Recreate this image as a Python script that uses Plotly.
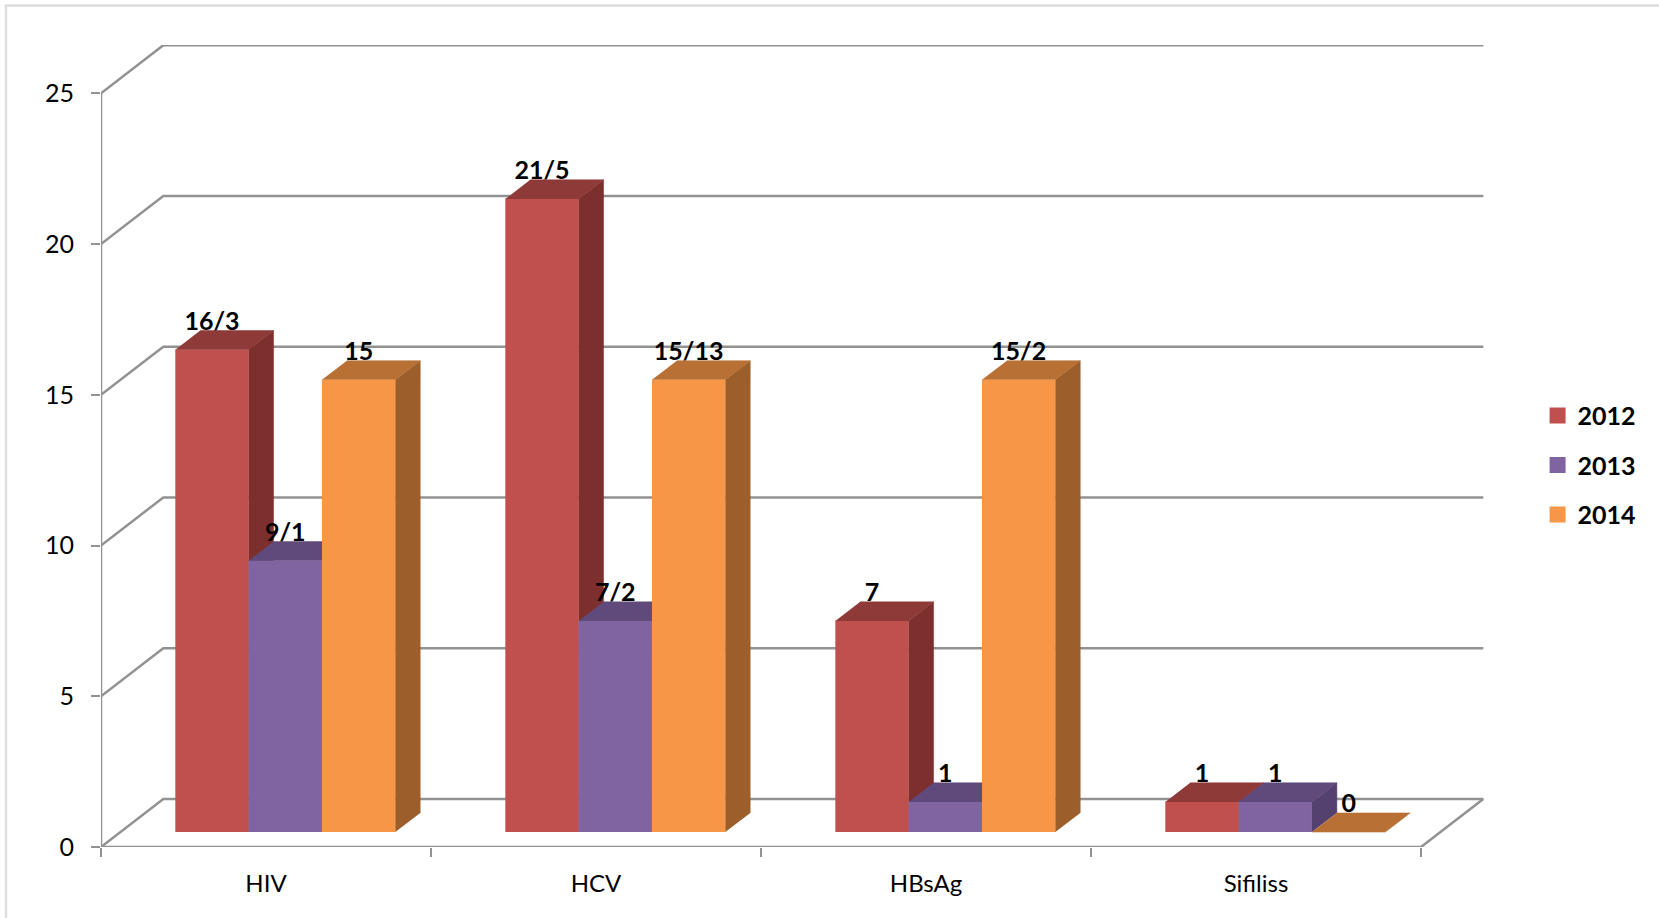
import plotly.graph_objects as go

categories = ["HIV", "HCV", "HBsAg", "Sifiliss"]
years = ["2012", "2013", "2014"]
values_2012 = [16, 21, 7, 1]
values_2013 = [9, 7, 1, 1]
values_2014 = [15, 15, 15, 0]
labels_2012 = ["16/3", "21/5", "7", "1"]
labels_2013 = ["9/1", "7/2", "1", "1"]
labels_2014 = ["15", "15/13", "15/2", "0"]
y_ticks = [0, 5, 10, 15, 20, 25]

series = [
    (years[0], values_2012, labels_2012, "#C0504D", "#8E3A38", "#7D2F2E"),
    (years[1], values_2013, labels_2013, "#8064A2", "#604A7B", "#55416F"),
    (years[2], values_2014, labels_2014, "#F79646", "#B97034", "#9C5E2A"),
]

W, H = 1659, 918
L, R, T, B = 101, 1485, 45, 847
PX_X = 330.0
PX_Y = 30.15
DX = 62.3 / PX_X
DY = 48.0 / PX_Y
D_FRONT, D_BACK = 0.31, 0.71
BAR_W = 2 / 9
GAP = 1 / 6
GRID = "#929292"
LABEL_LIFT = 7 / PX_Y


def proj(x, y, d):
    return x + d * DX, y + d * DY


fig = go.Figure()

# walls / floor grid
for v in y_ticks:
    pts = [proj(0, v, 0), proj(0, v, 1), proj(len(categories), v, 1)]
    fig.add_trace(go.Scatter(x=[p[0] for p in pts], y=[p[1] for p in pts], mode="lines",
                             line=dict(color=GRID, width=2.5), showlegend=False, hoverinfo="skip", zorder=0))
n = len(categories)
edges = [[(0, 0, 0), (0, 25, 0)], [(0, 0, 0), (n, 0, 0)], [(n, 0, 0), (n, 0, 1)]]
for e in edges:
    pts = [proj(*p) for p in e]
    fig.add_trace(go.Scatter(x=[p[0] for p in pts], y=[p[1] for p in pts], mode="lines",
                             line=dict(color=GRID, width=2.5), showlegend=False, hoverinfo="skip", zorder=0))


def poly(corners, color, z):
    pts = [proj(*c) for c in corners]
    fig.add_trace(go.Scatter(x=[p[0] for p in pts], y=[p[1] for p in pts], mode="lines", fill="toself",
                             fillcolor=color, line=dict(color=color, width=0.5), showlegend=False,
                             hoverinfo="skip", zorder=z))


lab_x, lab_y, lab_t = [], [], []
for s, (name, vals, labs, front, top, side) in enumerate(series):
    z = 2 * s + 1
    fx, fb, fy = [], [], []
    for i, v in enumerate(vals):
        x0 = i + GAP + s * BAR_W
        x1 = x0 + BAR_W
        if v > 0:
            poly([(x1, 0, D_FRONT), (x1, v, D_FRONT), (x1, v, D_BACK), (x1, 0, D_BACK)], side, z)
        poly([(x0, v, D_FRONT), (x1, v, D_FRONT), (x1, v, D_BACK), (x0, v, D_BACK)], top, z)
        cx, _ = proj(x0 + BAR_W / 2, v, D_FRONT)
        _, cy = proj(x0, v, D_BACK)
        lab_x.append(cx)
        lab_y.append(cy + LABEL_LIFT)
        lab_t.append(labs[i])
        fx.append(proj(x0 + BAR_W / 2, 0, D_FRONT)[0])
        fb.append(proj(0, 0, D_FRONT)[1])
        fy.append(v)
    fig.add_trace(go.Bar(x=fx, y=fy, base=fb, width=BAR_W, marker=dict(color=front, line=dict(width=0)),
                         showlegend=False, hoverinfo="skip", zorder=z + 1))
    fig.add_trace(go.Scatter(x=[None], y=[None], mode="markers", name=name, legendgroup=name,
                             marker=dict(symbol="square", size=16, color=front)))

fig.add_trace(go.Scatter(x=lab_x, y=lab_y, mode="text", text=lab_t, textposition="middle center",
                         textfont=dict(family="Lato", size=25, color="#000000", weight="bold"), showlegend=False,
                         hoverinfo="skip", zorder=10, cliponaxis=False))

x_max = (R - L) / PX_X
y_max = (B - T) / PX_Y
fig.update_layout(
    width=W, height=H, autosize=False, barmode="overlay",
    margin=dict(l=L, r=W - R, t=T, b=H - B, pad=0),
    paper_bgcolor="#FFFFFF", plot_bgcolor="#FFFFFF",
    font=dict(family="Lato", size=25, color="#000000"),
    xaxis=dict(range=[0, x_max], tickmode="array", tickvals=[i + 0.5 for i in range(n)], ticktext=categories,
               showgrid=False, zeroline=False, showline=False, ticks="", ticklabelstandoff=20,
               minor=dict(tickmode="array", tickvals=list(range(n + 1)), ticks="outside", ticklen=9, tickwidth=2,
                          tickcolor=GRID, showgrid=False),
               tickfont=dict(family="Lato", size=24)),
    yaxis=dict(range=[0, y_max], tickmode="array", tickvals=y_ticks, showgrid=False, zeroline=False, showline=False,
               ticks="outside", ticklen=9, tickwidth=2, tickcolor=GRID, ticklabelstandoff=12,
               tickfont=dict(family="Lato", size=25)),
    legend=dict(x=1.038, xanchor="left", y=0.476, yanchor="middle", traceorder="grouped", tracegroupgap=14,
                font=dict(family="Lato", size=25, color="#000000", weight="bold"), itemsizing="trace",
                bgcolor="rgba(0,0,0,0)"),
    shapes=[
        dict(type="rect", xref="paper", yref="paper", x0=(6 - L) / (R - L), x1=(W + 20 - L) / (R - L),
             y0=(B - (H + 20)) / (B - T), y1=(B - 5.5) / (B - T), line=dict(color="#DDDDDD", width=2.5),
             fillcolor="rgba(0,0,0,0)", layer="below"),
    ],
)
fig.write_html("out.html", post_script="document.body.style.margin='0';", config={"displayModeBar": False})
